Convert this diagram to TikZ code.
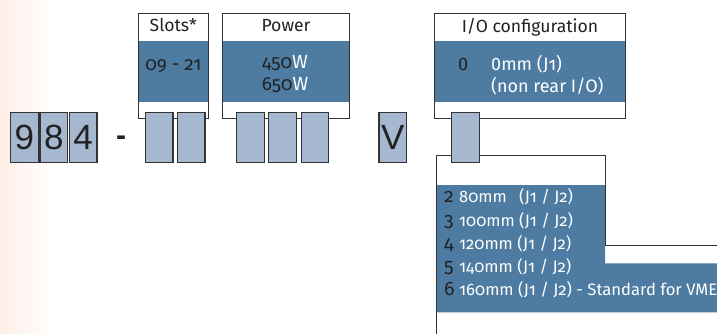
\documentclass[tikz,border=0pt]{standalone}
\usepackage{fontspec}
\setmainfont{Fira Sans}[Numbers=OldStyle]
\newfontfamily\digitfont{Liberation Sans}
\definecolor{band}{HTML}{4E7BA1}
\definecolor{cell}{HTML}{A6B8CF}
\definecolor{edge}{HTML}{333333}
\definecolor{ink}{HTML}{222222}
\definecolor{blush}{HTML}{FFEEE6}
\begin{document}
\begin{tikzpicture}[x=1pt,y=-1pt,
  cellbox/.style={draw=edge, line width=1.2pt, fill=cell, minimum width=27.7pt,
    minimum height=49.5pt, inner sep=0pt, anchor=north west,
    font=\digitfont\fontsize{35}{35}\selectfont, text=ink},
  frame/.style={draw=edge, line width=0.9pt},
  head/.style={font=\fontsize{17.6}{19}\selectfont, text=ink, inner sep=0pt, anchor=base},
  val/.style={font=\fontsize{19}{21}\selectfont, inner sep=0pt, anchor=base},
  ioval/.style={font=\fontsize{18}{20}\selectfont, inner sep=0pt, anchor=base west},
  rowtxt/.style={font=\fontsize{16.6}{19}\selectfont, inner sep=0pt, anchor=base west, text=white},
  rownum/.style={font=\fontsize{19.5}{20}\selectfont, inner sep=0pt, anchor=base west, text=ink}]
\useasboundingbox (0,0) rectangle (717,334);
\shade[left color=blush, right color=white] (0,0) rectangle (54,334);

% frames
\fill[white] (138,13) rectangle (208.7,118.7);
\fill[band] (138,41) rectangle (208.7,101.7);
\draw[frame] (138,13) rectangle (208.7,118.7);
\fill[white] (222.7,13) rectangle (349,118.7);
\fill[band] (222.7,41) rectangle (349,101.7);
\draw[frame] (222.7,13) rectangle (349,118.7);
\fill[white] (434,13) rectangle (625.7,118.7);
\fill[band] (434,41) rectangle (625.7,101.7);
\draw[frame] (434,13) rectangle (625.7,118.7);

% lower frame
\fill[band] (436.7,185) -- (605,185) -- (605,263.3) -- (720,263.3) -- (720,312.3) -- (436.7,312.3) -- cycle;
\draw[frame] (436.7,340) -- (436.7,155.7) -- (605,155.7) -- (605,245) -- (720,245);

% headers
\node[head] (hslots) at (173.3,32) {Slots*};
\node[head] (hpower) at (286,32) {Power};
\node[head] (hio) at (530,32.3) {I/O configuration};

% values
\node[val, text=ink] (vslots) at (173.3,71) {09 - 21};
\node[val] (v450) at (285,68.3) {\textcolor{ink}{450}\textcolor{white}{W}};
\node[val] (v650) at (285,90.7) {\textcolor{ink}{650}\textcolor{white}{W}};
\node[ioval, text=ink] (io0) at (458,71) {\addfontfeature{Numbers=Lining}0};
\node[ioval, text=white] (io0a) at (491,71) {{\addfontfeature{Numbers=Lining}0mm} (J1)};
\node[ioval, text=white] (io0b) at (491,92.5) {(non rear I/O)};

% cells
\node[cellbox] (c9) at (10,112) {9};
\node[cellbox] (c8) at (39.3,112) {8};
\node[cellbox] (c4) at (68.6,112) {4};
\node[font=\digitfont\bfseries\fontsize{30}{30}\selectfont, text=ink, inner sep=0pt, anchor=base] (dash) at (121,146) {-};
\node[cellbox] (s1) at (144.7,112) {};
\node[cellbox] (s2) at (176.7,112) {};
\node[cellbox] (p1) at (236,112) {};
\node[cellbox] (p2) at (268,112) {};
\node[cellbox] (p3) at (300.5,112) {};
\node[cellbox] (cv) at (378.3,112) {V};
\node[cellbox] (cio) at (451,112) {};

% rows
\node[rownum] (n2) at (444,202.7) {2};
\node[rowtxt] (t2) at (459,202.7) {\rlap{80mm}\hphantom{100mm} (J1 / J2)};
\node[rownum] (n3) at (444,226) {3};
\node[rowtxt] (t3) at (459,226) {100mm (J1 / J2)};
\node[rownum] (n4) at (444,249.3) {4};
\node[rowtxt] (t4) at (459,249.3) {120mm (J1 / J2)};
\node[rownum] (n5) at (444,272.6) {5};
\node[rowtxt] (t5) at (459,272.6) {140mm (J1 / J2)};
\node[rownum] (n6) at (444,295.9) {6};
\node[rowtxt] (t6) at (459,295.9) {160mm (J1 / J2) - Standard for VME};
\end{tikzpicture}
\end{document}
